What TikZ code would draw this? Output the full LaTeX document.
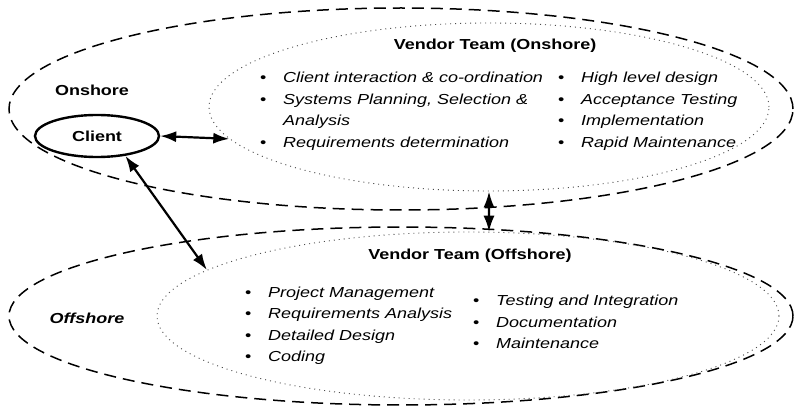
\documentclass[tikz,border=0pt]{standalone}
\usepackage{fontspec}
\setmainfont{Liberation Sans}[FakeStretch=1.24]
\usetikzlibrary{shapes.geometric,arrows.meta}
\newcommand{\sz}{\fontsize{14.5}{21.7}\selectfont}
\newcommand{\blt}{\makebox[23pt][l]{\upshape\textbullet}}

\begin{document}
\begin{tikzpicture}[x=1pt, y=-1pt, every node/.style={inner sep=0pt, font=\sz},
	region/.style={ellipse, draw=black, line width=1.5pt, dash pattern=on 12pt off 7pt},
	team/.style={ellipse, draw=black!70, line width=.9pt, dash pattern=on 1pt off 4pt},
	item/.style={anchor=base west, font=\sz\itshape},
	link/.style={line width=2.2pt, {Latex[length=16pt,width=11pt]}-{Latex[length=16pt,width=11pt]}}]
				\useasboundingbox (0,0) rectangle (796,409);
				
				% the two sites
				\node[region, minimum width=784pt, minimum height=202pt] (onout) at (401,109){};
				\node[region, minimum width=784pt, minimum height=178pt] (offout) at (401,316){};
				\node[font=\sz\bfseries] (onlbl) at (92,90){Onshore};
				\node[font=\sz\bfseries\itshape] (offlbl) at (87,318){Offshore};
				
				% the teams
				\node[team, minimum width=560pt, minimum height=168pt] (onin) at (489,107){};
				\node[team, minimum width=622pt, minimum height=168pt] (offin) at (468,316){};
				\node[ellipse, draw=black, line width=2.4pt, minimum width=124pt, minimum height=42pt, font=\sz\bfseries] (client) at (97,136){Client};
				
				\node[font=\sz\bfseries] (ontitle) at (495,46){Vendor Team (Onshore)};
				\node[item] (on1) at (260,83){\blt Client interaction \& co-ordination};
				\node[item] (on2) at (260,104.5){\blt Systems Planning, Selection \&};
				\node[item] (on3) at (283,126){Analysis};
				\node[item] (on4) at (260,148){\blt Requirements determination};
				\node[item] (on5) at (558,83){\blt High level design};
				\node[item] (on6) at (558,104.5){\blt Acceptance Testing};
				\node[item] (on7) at (558,126){\blt Implementation};
				\node[item] (on8) at (558,148){\blt Rapid Maintenance};
				
				\node[font=\sz\bfseries] (offtitle) at (470,256){Vendor Team (Offshore)};
				\node[item] (off1) at (245,297){\blt Project Management};
				\node[item] (off2) at (245,318.5){\blt Requirements Analysis};
				\node[item] (off3) at (245,340){\blt Detailed Design};
				\node[item] (off4) at (245,361.5){\blt Coding};
				\node[item] (off5) at (473,305.5){\blt Testing and Integration};
				\node[item] (off6) at (473,327){\blt Documentation};
				\node[item] (off7) at (473,348.5){\blt Maintenance};
				
				\draw[link] (client.east) -- (onin.-173.6);
				\draw[link] (client.-35) -- (offin.170);
				\draw[link] (onin.-90) -- (offin.76);
				\end{tikzpicture}
\end{document}
